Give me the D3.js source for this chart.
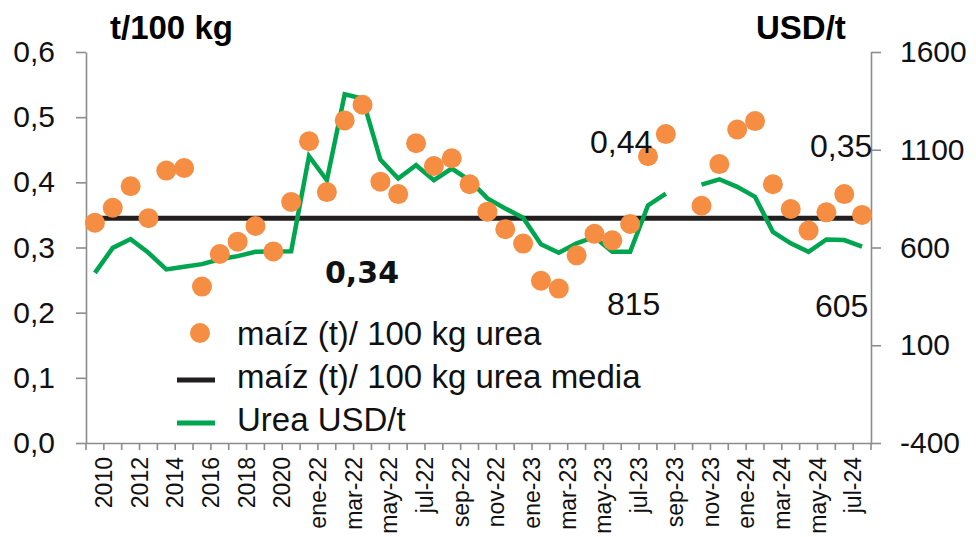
<!DOCTYPE html>
<meta charset="utf-8">
<style>
body { margin: 0; background: #fff; font-family: "Liberation Sans", Arial, sans-serif; }
.axis path, .axis line { stroke: #8c8c8c; stroke-width: 1.6px; }
.axis text { fill: #111; }
</style>
<body>
<svg width="976" height="537"></svg>
<script src="https://d3js.org/d3.v7.min.js"></script>
<script>
// categories: years 2010-2021, then months ene-22 .. ago-24
var categories = ["2010","2011","2012","2013","2014","2015","2016","2017","2018","2019","2020","2021",
  "ene-22","feb-22","mar-22","abr-22","may-22","jun-22","jul-22","ago-22","sep-22","oct-22","nov-22","dic-22",
  "ene-23","feb-23","mar-23","abr-23","may-23","jun-23","jul-23","ago-23","sep-23","oct-23","nov-23","dic-23",
  "ene-24","feb-24","mar-24","abr-24","may-24","jun-24","jul-24","ago-24"];

// maíz (t) / 100 kg urea
var ratio = [0.338, 0.361, 0.394, 0.345, 0.418, 0.422, 0.240, 0.290, 0.309, 0.333, 0.294, 0.370,
  0.463, 0.385, 0.495, 0.519, 0.401, 0.382, 0.460, 0.425, 0.437, 0.397, 0.355, 0.328,
  0.306, 0.249, 0.237, 0.288, 0.321, 0.311, 0.336, 0.44, 0.474, null, 0.364, 0.428,
  0.481, 0.494, 0.397, 0.359, 0.326, 0.354, 0.382, 0.35];

var ratioMean = 0.345;

// Urea USD/t
var urea = [470, 598, 643, 573, 488, 502, 515, 540, 556, 578, 579, 581,
  1067, 944, 1384, 1362, 1050, 953, 1021, 944, 1004, 944, 851, 800,
  752, 617, 573, 621, 654, 578, 578, 815, 876, null, 922, 949,
  910, 859, 680, 621, 578, 641, 638, 605];

var leftTicks = [0, 0.1, 0.2, 0.3, 0.4, 0.5, 0.6];
var rightTicks = [-400, 100, 600, 1100, 1600];

var notes = [
  {text: "0,34", x: 325, y: 283, bold: true},
  {text: "0,44", x: 590, y: 153},
  {text: "815", x: 607, y: 315},
  {text: "0,35", x: 810, y: 157},
  {text: "605", x: 815, y: 317}
];

var svg = d3.select("svg");

var x = d3.scaleBand().domain(categories).range([86, 871]).padding(0),
    y = d3.scaleLinear().domain([0, 0.6]).range([443, 52]),
    y2 = d3.scaleLinear().domain([-400, 1600]).range([443, 52]);

var comma = function(d) { return d3.format(".1f")(d).replace(".", ","); };

// left axis
var gl = svg.append("g").attr("class", "axis")
    .attr("transform", "translate(86,0)")
    .call(d3.axisLeft(y).tickValues(leftTicks).tickSize(10).tickSizeOuter(0).tickPadding(21).tickFormat(comma));
gl.selectAll("text").style("font-size", "30px");

// right axis
var gr = svg.append("g").attr("class", "axis")
    .attr("transform", "translate(871,0)")
    .call(d3.axisRight(y2).tickValues(rightTicks).tickSize(10).tickSizeOuter(0).tickPadding(19)
      .tickFormat(function(d) { return String(d); }));
gr.selectAll("text").style("font-size", "30px");

// bottom axis, ticks between categories
var gx = svg.append("g").attr("class", "axis")
    .attr("transform", "translate(0,443)")
    .call(d3.axisBottom(x).tickSize(0).tickSizeOuter(0).tickFormat(""));
gx.selectAll(".tick").remove();
gx.selectAll(".bound")
    .data(categories.concat(["end"]))
  .enter().append("line")
    .attr("class", "bound")
    .attr("x1", function(d, i) { return 86 + i * x.step(); })
    .attr("x2", function(d, i) { return 86 + i * x.step(); })
    .attr("y1", 0).attr("y2", 7);

svg.append("g").selectAll("text")
    .data(categories.filter(function(d, i) { return i % 2 == 0; }))
  .enter().append("text")
    .attr("transform", function(d) { return "translate(" + (x(d) + x.bandwidth() / 2 + 17) + ",457) rotate(-90)"; })
    .attr("text-anchor", "end")
    .style("font-size", "23px")
    .attr("fill", "#111")
    .text(function(d) { return d; });

// mean line
svg.append("line")
    .attr("x1", x(categories[0]) + x.bandwidth() / 2)
    .attr("x2", x(categories[categories.length - 1]) + x.bandwidth() / 2)
    .attr("y1", y(ratioMean)).attr("y2", y(ratioMean))
    .attr("stroke", "#231f20").attr("stroke-width", 5);

// urea line
var line = d3.line()
    .defined(function(d) { return d != null; })
    .x(function(d, i) { return x(categories[i]) + x.bandwidth() / 2; })
    .y(function(d) { return y2(d); });

svg.append("path")
    .datum(urea)
    .attr("d", line)
    .attr("fill", "none")
    .attr("stroke", "#00a550")
    .attr("stroke-width", 4.5)
    .attr("stroke-linejoin", "miter");

// dots
svg.append("g").selectAll("circle")
    .data(ratio.map(function(v, i) { return {c: categories[i], v: v}; }).filter(function(d) { return d.v != null; }))
  .enter().append("circle")
    .attr("cx", function(d) { return x(d.c) + x.bandwidth() / 2; })
    .attr("cy", function(d) { return y(d.v); })
    .attr("r", 10)
    .attr("fill", "#f58d42");

// titles
svg.append("text").attr("x", 110).attr("y", 39)
    .style("font-size", "33px").style("font-weight", "bold").text("t/100 kg");
svg.append("text").attr("x", 756).attr("y", 39)
    .style("font-size", "33px").style("font-weight", "bold").text("USD/t");

// annotations
svg.append("g").selectAll("text")
    .data(notes)
  .enter().append("text")
    .attr("x", function(d) { return d.x; })
    .attr("y", function(d) { return d.y; })
    .style("font-family", function(d) { return d.bold ? "DejaVu Sans" : null; })
    .style("font-weight", function(d) { return d.bold ? "bold" : "normal"; })
    .style("font-size", function(d) { return d.bold ? "30px" : "32px"; })
    .attr("fill", "#111")
    .text(function(d) { return d.text; });

// legend
var legend = svg.append("g");
legend.append("circle").attr("cx", 200).attr("cy", 333).attr("r", 10).attr("fill", "#f58d42");
legend.append("line").attr("x1", 177).attr("x2", 215).attr("y1", 380).attr("y2", 380)
    .attr("stroke", "#231f20").attr("stroke-width", 5);
legend.append("line").attr("x1", 177).attr("x2", 215).attr("y1", 423).attr("y2", 423)
    .attr("stroke", "#00a550").attr("stroke-width", 5);
legend.selectAll("text")
    .data(["maíz (t)/ 100 kg urea", "maíz (t)/ 100 kg urea media", "Urea USD/t"])
  .enter().append("text")
    .attr("x", 237)
    .attr("y", function(d, i) { return 345 + i * 43; })
    .style("font-size", "33px")
    .attr("fill", "#111")
    .text(function(d) { return d; });
</script>
</body>
